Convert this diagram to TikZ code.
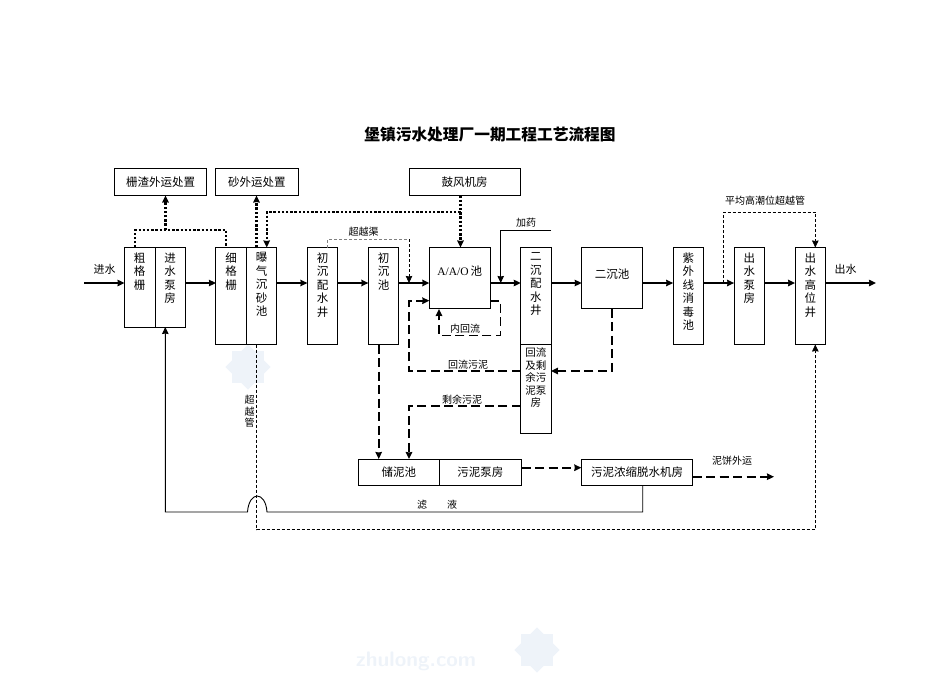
\documentclass[tikz,border=0pt]{standalone}
\usepackage{fontspec}
\setmainfont{Liberation Serif}
\newfontfamily\cjk{Noto Sans CJK SC}
\usetikzlibrary{arrows.meta,positioning}
\definecolor{wmark}{HTML}{EEF3F9}
\tikzset{
    box/.style={draw,line width=.9pt,inner sep=0pt,outer sep=0pt,align=center,font=\cjk\fontsize{11.5}{13.5}\selectfont},
    tank/.style={box,minimum width=30.48pt,minimum height=#1},
    lines/.style={label={[anchor=north,yshift=-5pt,inner sep=0pt,align=center,font=\cjk\fontsize{11.5}{13.5}\selectfont]north:{#1}}},
    room/.style={box,minimum height=26.8pt},
    nextto/.style={right=30.48pt of #1.north east,anchor=north west},
    tag/.style={inner sep=0pt,align=center,font=\cjk\fontsize{10}{11.5}\selectfont},
    flow/.style={->,line width=1.3pt},
    air/.style={->,line width=2.4pt,dash pattern=on 2.4pt off 1.8pt},
    sludge/.style={->,line width=1.6pt,dash pattern=on 9pt off 4.5pt},
    bypass/.style={->,line width=.7pt,dash pattern=on 3pt off 2pt},
}
\begin{document}
\begin{tikzpicture}[>={Stealth[length=7pt,width=6.5pt,inset=.5pt]},x=1pt,y=-1pt]
    \useasboundingbox (0,0) rectangle (950,672);
    % watermark
    \foreach \wx/\wy in {248/367,537/650}
        \foreach \wr in {0,45}
            \fill[wmark,shift={(\wx,\wy)},rotate=\wr] (-16,-16) rectangle (16,16);
    \node[text=wmark,font=\bfseries\fontsize{21}{21}\selectfont\sffamily] (wmtext) at (416,661) {zhulong.com};
    \node[font=\cjk\bfseries\fontsize{15.7}{15.7}\selectfont] (title) at (490,135) {堡镇污水处理厂一期工程工艺流程图};
    % main row
    \node[tank=79.5pt,anchor=north west,lines={粗\\格\\栅}] (coarse) at (124.5,247.5) {};
    \node[tank=79.5pt,right=0pt of coarse,lines={进\\水\\泵\\房}] (pump) {};
    \node[tank=97pt,nextto=pump,lines={细\\格\\栅}] (fine) {};
    \node[tank=97pt,right=0pt of fine,lines={曝\\气\\沉\\砂\\池}] (grit) {};
    \node[tank=97pt,nextto=grit,lines={初\\沉\\配\\水\\井}] (primwell) {};
    \node[tank=97pt,nextto=primwell,lines={初\\沉\\池}] (primary) {};
    \node[box,minimum width=60.96pt,text height=27.5pt,text depth=33.8pt,nextto=primary] (aao) {{\rmfamily A/A/O}\,池};
    \node[tank=97pt,nextto=aao,lines={二\\沉\\配\\水\\井}] (secwell) {};
    \node[box,minimum width=60.96pt,text height=30.5pt,text depth=30.8pt,nextto=secwell] (secpool) {二沉池};
    \node[tank=97pt,nextto=secpool,lines={紫\\外\\线\\消\\毒\\池}] (uv) {};
    \node[tank=97pt,nextto=uv,lines={出\\水\\泵\\房}] (outpump) {};
    \node[tank=97pt,nextto=outpump,lines={出\\水\\高\\位\\井}] (outwell) {};
    \node[tank=89pt,below=0pt of secwell,label={[anchor=north,yshift=-3pt,inner sep=0pt,align=center,font=\cjk\fontsize{10.5}{12.5}\selectfont]north:{回流\\及剩\\余污\\泥泵\\房}}] (retpump) {};
    % top row
    \node[room,minimum width=92.4pt,anchor=north west] (screenings) at (114.3,168.7) {栅渣外运处置};
    \node[room,minimum width=82.3pt,right=9pt of screenings] (sand) {砂外运处置};
    \node[room,minimum width=111.3pt,anchor=north west] (blower) at (409,168.5) {鼓风机房};
    % sludge row
    \node[room,minimum width=81pt,anchor=north west] (store) at (358.3,459) {储泥池};
    \node[room,minimum width=82.2pt,right=0pt of store] (slpump) {污泥泵房};
    \node[room,minimum width=111.4pt,anchor=north west] (dewater) at (581.3,459) {污泥浓缩脱水机房};
    % labels
    \node[tag,font=\cjk\fontsize{11}{13}\selectfont] (inlabel) at (104.5,269) {进水};
    \node[tag,font=\cjk\fontsize{11}{13}\selectfont] (outlabel) at (845.5,269) {出水};
    \node[tag] (canallabel) at (363.5,232) {超越渠};
    \node[tag] (doselabel) at (526,223) {加药};
    \node[tag] (internlabel) at (465,329) {内回流};
    \node[tag] (retlabel) at (468,364.5) {回流污泥};
    \node[tag] (wastelabel) at (462,399.5) {剩余污泥};
    \node[tag] (cakelabel) at (732,461) {泥饼外运};
    \node[tag] (filtlabel) at (437,505) {滤\hspace{20pt}液};
    \node[tag] (tubelabel) at (249.5,411.5) {超\\越\\管};
    \node[tag] (tidelabel) at (765,201) {平均高潮位超越管};
    % junctions
    \coordinate (line) at (0,283);
    \coordinate (inlet) at (84,283);
    \coordinate (outlet) at (876,283);
    \coordinate (screenbus) at (165.5,230);
    \coordinate (gritport) at (256.5,247.5);
    \coordinate (airbus) at (460.5,212);
    \coordinate (airdrop) at (266.7,247.5);
    \coordinate (canalup) at (327.5,247.5);
    \coordinate (canaltop) at (409,239);
    \coordinate (canalin) at (409,283);
    \coordinate (dosestart) at (551,230);
    \coordinate (dosein) at (500.7,283);
    \coordinate (internout) at (490,300.7);
    \coordinate (internbot) at (500.3,335.5);
    \coordinate (internin) at (439,309);
    \coordinate (retstart) at (520.7,371);
    \coordinate (retleft) at (409,300.7);
    \coordinate (retarrow) at (551,371);
    \coordinate (wastestart) at (520.7,406);
    \coordinate (wasteleft) at (409,406);
    \coordinate (storein) at (378.7,344.5);
    \coordinate (slline) at (0,467.7);
    \coordinate (cakeout) at (692.7,476.7);
    \coordinate (cakeend) at (774,476.7);
    \coordinate (filtbot) at (642.7,512);
    \coordinate (humpr) at (267,512);
    \coordinate (humpl) at (247.5,512);
    \coordinate (filtleft) at (165.3,512);
    \coordinate (tubebot) at (256.5,529.5);
    \coordinate (tubeend) at (815.3,529.5);
    \coordinate (tidestart) at (723.5,283);
    \coordinate (tidetop) at (723.5,212);
    \coordinate (tideend) at (815.3,247.5);
    % main flow
    \draw[flow] (inlet) -- (coarse.west |- line);
    \foreach \from/\to in {pump/fine,grit/primwell,primwell/primary,primary/aao,aao/secwell,secwell/secpool,secpool/uv,uv/outpump,outpump/outwell}
        \draw[flow] (\from.east |- line) -- (\to.west |- line);
    \draw[flow] (outwell.east |- line) -- (outlet);
    % blower and screenings
    \draw[air,-] ([xshift=-4.7pt]coarse.north) |- ([xshift=-5pt]fine.north |- screenbus) -- ([xshift=-5pt]fine.north);
    \draw[air] (screenbus) -- (screenings.south -| screenbus);
    \draw[air] (gritport) -- (sand.south -| gritport);
    \draw[air] (blower.south -| airbus) -- (aao.north -| airbus);
    \draw[air] (airbus) -| (airdrop);
    % bypass lines
    \draw[bypass,-,gray] (canalup) |- (canaltop);
    \draw[bypass] (canaltop) -- (canalin);
    \draw[flow,line width=.8pt] (dosestart) -| (dosein);
    \draw[bypass] (tidestart) |- (tidetop -| tideend) -- (tideend);
    \draw[bypass] (gritport |- grit.south) -- (tubebot) -- (tubeend) -- (outwell.south -| tubeend);
    % sludge
    \draw[sludge] (internout) -| (internbot) -| (internin);
    \draw[sludge] (retstart) -| (retleft) -- (aao.west |- retleft);
    \draw[sludge] (secpool.south) |- (retarrow);
    \draw[sludge] (wastestart) -- (wasteleft) -- (store.north -| wasteleft);
    \draw[sludge] (storein) -- (store.north -| storein);
    \draw[sludge] (slpump.east |- slline) -- (dewater.west |- slline);
    \draw[sludge] (cakeout) -- (cakeend);
    % filtrate
    \draw[flow,line width=.9pt] (dewater.south -| filtbot) -- (filtbot) -- (humpr)
        .. controls (265.5,490.7) and (249,490.7) .. (humpl) -- (filtleft) -- (pump.south -| filtleft);
\end{tikzpicture}
\end{document}
